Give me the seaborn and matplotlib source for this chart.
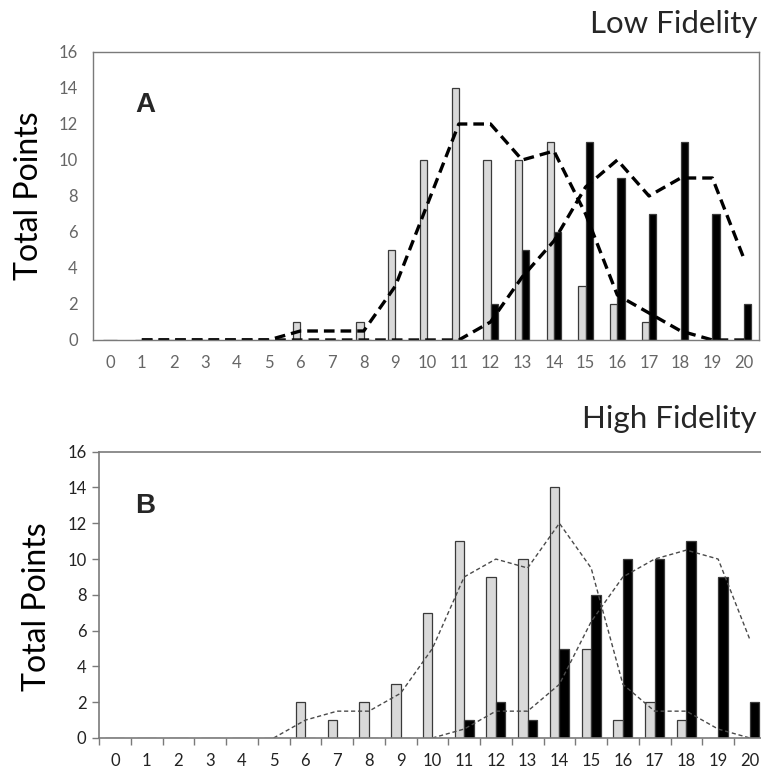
import numpy as np
import pandas as pd
import matplotlib
matplotlib.use("Agg")
import matplotlib.pyplot as plt
from matplotlib.ticker import MultipleLocator
import seaborn as sns

# scores 0..20 on the x axis
scores = list(range(21))

# Panel A - Low Fidelity (gray = first series, black = second series)
low_gray = [0, 0, 0, 0, 0, 0, 1, 0, 1, 5, 10, 14, 10, 10, 11, 3, 2, 1, 0, 0, 0]
low_black = [0, 0, 0, 0, 0, 0, 0, 0, 0, 0, 0, 0, 2, 5, 6, 11, 9, 7, 11, 7, 2]
# dashed trend lines (start at score 1)
low_gray_trend = [0, 0, 0, 0, 0, 0.5, 0.5, 0.5, 3, 7.5, 12, 12, 10, 10.5, 7, 2.5, 1.5, 0.5, 0, 0]
low_black_trend = [0, 0, 0, 0, 0, 0, 0, 0, 0, 0, 0, 1, 3.5, 5.5, 8.5, 10, 8, 9, 9, 4.5]

# Panel B - High Fidelity
high_gray = [0, 0, 0, 0, 0, 0, 2, 1, 2, 3, 7, 11, 9, 10, 14, 5, 1, 2, 1, 0, 0]
high_black = [0, 0, 0, 0, 0, 0, 0, 0, 0, 0, 0, 1, 2, 1, 5, 8, 10, 10, 11, 9, 2]
high_gray_trend = [0, 1, 1.5, 1.5, 2.5, 5, 9, 10, 9.5, 12, 9.5, 3, 1.5, 1.5, 0.5, 0]   # from score 5
high_black_trend = [0, 0.5, 1.5, 1.5, 3, 6.5, 9, 10, 10.5, 10, 5.5]                  # from score 10

FONT = ["Lato", "DejaVu Sans"]


def long_frame(gray, black):
    df = pd.DataFrame({"score": scores, "gray": gray, "black": black})
    return df.melt(id_vars="score", var_name="group", value_name="points")


sns.set_style("white")
plt.rcParams["font.family"] = FONT

fig = plt.figure(figsize=(7.61, 7.70), dpi=100)
ax_a = fig.add_axes([93 / 761, 1 - 340 / 770, 666 / 761, 288 / 770])
ax_b = fig.add_axes([99 / 761, 1 - 738 / 770, 662 / 761, 286.3 / 770])

pal = {"gray": "#d9d9d9", "black": "#000000"}

# ---- Panel A ----
sns.barplot(data=long_frame(low_gray, low_black), x="score", y="points", hue="group",
            hue_order=["gray", "black"], palette=pal, width=0.46, gap=0,
            edgecolor="#3a3a3a", linewidth=0.9, legend=False, ax=ax_a)
sns.lineplot(x=scores[1:], y=low_gray_trend, color="black", linewidth=2.4, ax=ax_a)
ax_a.lines[-1].set_dashes((3.2, 1.8))
sns.lineplot(x=scores[1:], y=low_black_trend, color="black", linewidth=2.4, ax=ax_a)
ax_a.lines[-1].set_dashes((3.2, 1.8))

ax_a.set_xlim(-0.54, 20.47)
ax_a.set_ylim(0, 16)
ax_a.yaxis.set_major_locator(MultipleLocator(2))
for sp in ax_a.spines.values():
    sp.set_visible(True)
    sp.set_color("#7a7a7a")
    sp.set_linewidth(1.0)
ax_a.tick_params(axis="both", length=0, labelsize=12, labelcolor="#666666")
ax_a.tick_params(axis="y", pad=11)
ax_a.tick_params(axis="x", pad=11)
ax_a.set_xlabel("")
ax_a.set_ylabel("Total Points", fontsize=23, color="black")
ax_a.yaxis.set_label_coords(-0.0735, 0.5)
ax_a.text(0.063, 0.79, "A", transform=ax_a.transAxes, fontsize=20, fontweight="bold",
          family="Liberation Sans", va="baseline")

# ---- Panel B ----
sns.barplot(data=long_frame(high_gray, high_black), x="score", y="points", hue="group",
            hue_order=["gray", "black"], palette=pal, width=0.6, gap=0,
            edgecolor="#3a3a3a", linewidth=0.9, legend=False, ax=ax_b)
sns.lineplot(x=scores[5:], y=high_gray_trend, color="#4a4a4a", linewidth=1.0, ax=ax_b)
ax_b.lines[-1].set_dashes((3, 2))
sns.lineplot(x=scores[10:], y=high_black_trend, color="#4a4a4a", linewidth=1.0, ax=ax_b)
ax_b.lines[-1].set_dashes((3, 2))

ax_b.set_xlim(-0.5, 20.35)
ax_b.set_ylim(0, 16)
ax_b.yaxis.set_major_locator(MultipleLocator(2))
ax_b.xaxis.set_minor_locator(MultipleLocator(1, offset=0.5))
ax_b.spines["right"].set_visible(False)
for side in ["top", "left", "bottom"]:
    ax_b.spines[side].set_visible(True)
    ax_b.spines[side].set_color("#7a7a7a")
    ax_b.spines[side].set_linewidth(1.2)
ax_b.tick_params(axis="x", which="major", length=0, pad=11, labelsize=12, labelcolor="#222222")
ax_b.tick_params(axis="x", which="minor", bottom=True, length=5, width=1, color="#7a7a7a")
ax_b.tick_params(axis="y", left=True, length=5, width=1, color="#7a7a7a", pad=4,
                 labelsize=12, labelcolor="#222222")
ax_b.set_xlabel("")
ax_b.set_ylabel("Total Points", fontsize=23, color="black")
ax_b.yaxis.set_label_coords(-0.0714, 0.46)
ax_b.text(0.054, 0.786, "B", transform=ax_b.transAxes, fontsize=20, fontweight="bold",
          family="Liberation Sans", va="baseline")

# panel titles at the top right
fig.text(757 / 761, 1 - 33 / 770, "Low Fidelity", ha="right", va="baseline", fontsize=22.5)
fig.text(757 / 761, 1 - 428 / 770, "High Fidelity", ha="right", va="baseline", fontsize=22.5)

fig.savefig("out.png", dpi=100, facecolor="white")
